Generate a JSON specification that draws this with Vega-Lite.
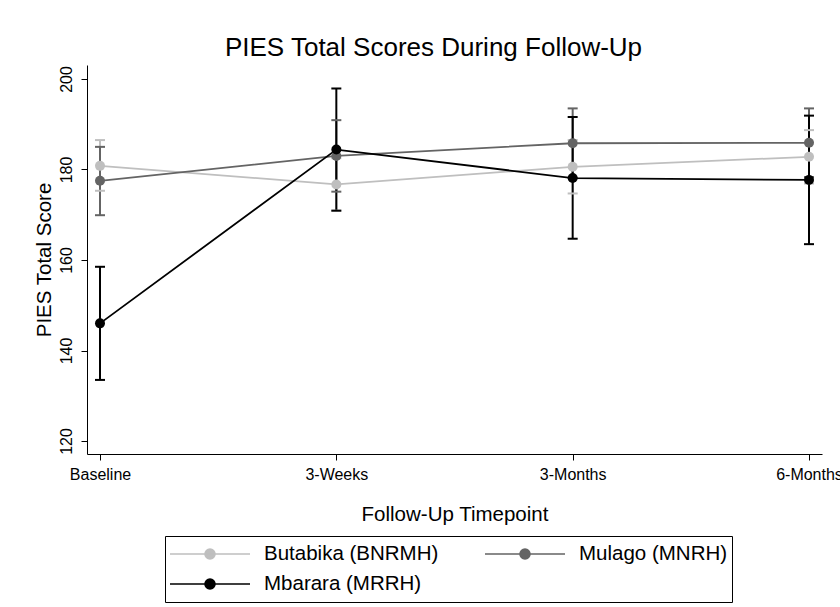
{
  "$schema": "https://vega.github.io/schema/vega-lite/v6.json",
  "width": 735,
  "height": 389,
  "autosize": {"type": "none"},
  "padding": {"left": 87, "top": 65, "right": 18, "bottom": 153},
  "background": "white",
  "title": {
    "text": "PIES Total Scores During Follow-Up",
    "anchor": "middle",
    "frame": "group",
    "dx": -21,
    "fontSize": 26,
    "font": "Liberation Sans",
    "fontWeight": "normal",
    "color": "black",
    "offset": 4
  },
  "config": {
    "view": {"stroke": null},
    "font": "Liberation Sans",
    "axis": {
      "domainColor": "black",
      "tickColor": "black",
      "labelColor": "black",
      "titleColor": "black",
      "labelFont": "Liberation Sans",
      "titleFont": "Liberation Sans",
      "titleFontWeight": "normal",
      "grid": false,
      "tickSize": 6,
      "domainWidth": 1,
      "tickWidth": 1
    }
  },
  "data": {
    "values": [
      {"site": "Butabika (BNRMH)", "time": "Baseline", "t": 0, "mean": 180.8, "lo": 175.3, "hi": 186.5},
      {"site": "Butabika (BNRMH)", "time": "3-Weeks", "t": 1, "mean": 176.7, "lo": 170.9, "hi": 182.5},
      {"site": "Butabika (BNRMH)", "time": "3-Months", "t": 2, "mean": 180.6, "lo": 174.7, "hi": 186.5},
      {"site": "Butabika (BNRMH)", "time": "6-Months", "t": 3, "mean": 182.8, "lo": 176.9, "hi": 188.7},
      {"site": "Mulago (MNRH)", "time": "Baseline", "t": 0, "mean": 177.5, "lo": 169.9, "hi": 185.0},
      {"site": "Mulago (MNRH)", "time": "3-Weeks", "t": 1, "mean": 183.0, "lo": 175.1, "hi": 190.9},
      {"site": "Mulago (MNRH)", "time": "3-Months", "t": 2, "mean": 185.8, "lo": 178.1, "hi": 193.5},
      {"site": "Mulago (MNRH)", "time": "6-Months", "t": 3, "mean": 185.9, "lo": 178.3, "hi": 193.5},
      {"site": "Mbarara (MRRH)", "time": "Baseline", "t": 0, "mean": 146.0, "lo": 133.5, "hi": 158.5},
      {"site": "Mbarara (MRRH)", "time": "3-Weeks", "t": 1, "mean": 184.4, "lo": 170.9, "hi": 197.9},
      {"site": "Mbarara (MRRH)", "time": "3-Months", "t": 2, "mean": 178.1, "lo": 164.7, "hi": 191.6},
      {"site": "Mbarara (MRRH)", "time": "6-Months", "t": 3, "mean": 177.7, "lo": 163.5, "hi": 191.9}
    ]
  },
  "encoding": {
    "x": {
      "field": "time",
      "type": "ordinal",
      "scale": {"type": "point", "domain": ["Baseline", "3-Weeks", "3-Months", "6-Months"], "padding": 0.055},
      "axis": {
        "title": "Follow-Up Timepoint",
        "labelAngle": 0,
        "labelFontSize": 16,
        "labelPadding": 6,
        "titleFontSize": 20.5,
        "titlePadding": 22
      }
    },
    "color": {
      "field": "site",
      "type": "nominal",
      "scale": {
        "domain": ["Butabika (BNRMH)", "Mulago (MNRH)", "Mbarara (MRRH)"],
        "range": ["#bfbfbf", "#646464", "#000000"]
      },
      "legend": {
        "title": null,
        "orient": "none",
        "legendX": 78,
        "legendY": 471,
        "direction": "horizontal",
        "columns": 2,
        "columnPadding": 45,
        "rowPadding": 2,
        "padding": 4,
        "strokeColor": "black",
        "clipHeight": 28,
        "symbolType": "M-1,0H1M0.125,0A0.125,0.125,0,1,1,-0.125,0A0.125,0.125,0,1,1,0.125,0Z",
        "symbolSize": 6400,
        "symbolStrokeWidth": 1.6,
        "symbolOpacity": 1,
        "labelFontSize": 20.5,
        "labelFont": "Liberation Sans",
        "labelColor": "black",
        "labelOffset": 13,
        "labelLimit": 400,
        "encode": {
          "symbols": {
            "update": {
              "fill": {"scale": "color", "field": "value"},
              "stroke": {"scale": "color", "field": "value"},
              "opacity": {"value": 1}
            }
          }
        }
      }
    }
  },
  "layer": [
    {
      "mark": {"type": "rule", "strokeWidth": 2},
      "encoding": {
        "y": {"field": "lo", "type": "quantitative"},
        "y2": {"field": "hi"}
      }
    },
    {
      "mark": {"type": "tick", "size": 10, "thickness": 2, "opacity": 1},
      "encoding": {
        "y": {"field": "hi", "type": "quantitative"}
      }
    },
    {
      "mark": {"type": "tick", "size": 10, "thickness": 2, "opacity": 1},
      "encoding": {
        "y": {"field": "lo", "type": "quantitative"}
      }
    },
    {
      "mark": {"type": "line", "strokeWidth": 1.8},
      "encoding": {
        "y": {"field": "mean", "type": "quantitative"},
        "order": {"field": "t", "type": "quantitative"}
      }
    },
    {
      "mark": {"type": "point", "filled": true, "size": 100, "opacity": 1},
      "encoding": {
        "y": {
          "field": "mean",
          "type": "quantitative",
          "scale": {"domain": [117.13, 203.09], "nice": false, "zero": false},
          "axis": {
            "title": "PIES Total Score",
            "values": [120, 140, 160, 180, 200],
            "labelAngle": -90,
            "labelFontSize": 16,
            "labelPadding": 7,
            "titleFontSize": 20.5,
            "titlePadding": 4
          }
        }
      }
    }
  ],
  "resolve": {"scale": {"y": "shared"}}
}
